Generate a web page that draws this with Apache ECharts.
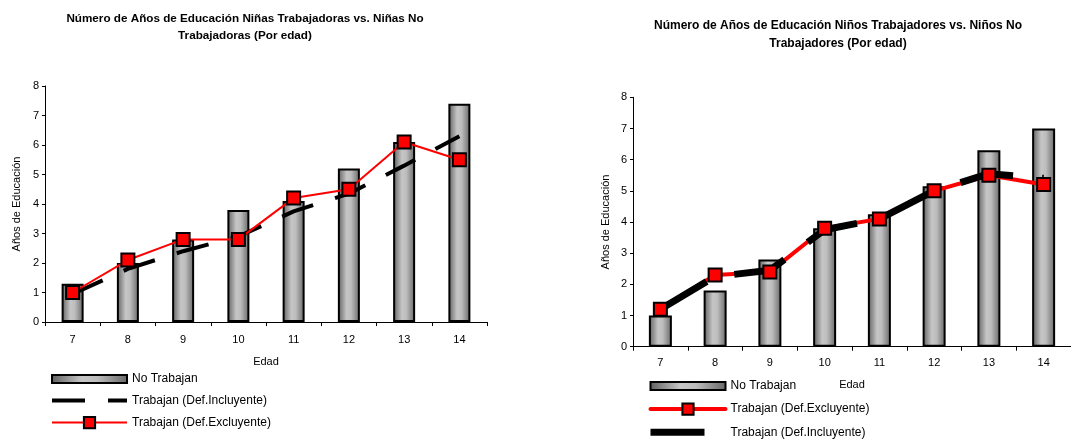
<!DOCTYPE html>
<html>
<head>
<meta charset="utf-8">
<script src="https://cdn.jsdelivr.net/npm/echarts@6/dist/echarts.min.js"></script>
<style>
  html, body { margin: 0; padding: 0; background: #fff; }
  #chart { width: 1071px; height: 439px; }
</style>
</head>
<body>
<div id="chart"></div>
<script>
// Ages (x categories) shared by both panels
const ages = ['7', '8', '9', '10', '11', '12', '13', '14'];

// Girls: years of schooling by age
const ninasNoTrabajan = [1.3, 2.0, 2.8, 3.8, 4.1, 5.2, 6.1, 7.4];
const ninasIncluyente = [0.95, 1.8, 2.4, 2.9, 3.75, 4.35, 5.3, 6.3];
const ninasExcluyente = [1.0, 2.1, 2.8, 2.8, 4.2, 4.5, 6.1, 5.5];

// Boys: years of schooling by age
const ninosNoTrabajan = [1.0, 1.8, 2.8, 3.8, 4.25, 5.15, 6.3, 7.0];
const ninosExcluyente = [1.2, 2.3, 2.4, 3.8, 4.1, 5.0, 5.5, 5.2];
const ninosIncluyente = [1.2, 2.25, 2.45, 3.75, 4.1, 5.0, 5.55, 5.4];

const FONT = '"Liberation Sans", Arial, sans-serif';
const NAME_BAR = 'No Trabajan';
const NAME_INC = 'Trabajan (Def.Incluyente)';
const NAME_EXC = 'Trabajan (Def.Excluyente)';

// Cylinder-like shading for the columns
const barFill = {
  type: 'linear', x: 0, y: 0, x2: 1, y2: 0,
  colorStops: [
    { offset: 0, color: '#5e5e5e' },
    { offset: 0.4, color: '#c6c6c6' },
    { offset: 0.6, color: '#bdbdbd' },
    { offset: 1, color: '#666666' }
  ]
};
const HIDDEN = 'rgba(0,0,0,0)';

function xAxisFor(gridIndex, nameGap, margin) {
  return {
    gridIndex, type: 'category', data: ages,
    axisLine: { lineStyle: { color: '#000', width: 1 } },
    axisTick: { show: true, length: 4, lineStyle: { color: '#000' } },
    axisLabel: { color: '#000', fontSize: 11, fontFamily: FONT, margin },
    name: 'Edad', nameLocation: 'middle', nameGap,
    nameTextStyle: { color: '#000', fontSize: 11, fontFamily: FONT }
  };
}
function yAxisFor(gridIndex, nameGap) {
  return {
    gridIndex, type: 'value', min: 0, max: 8, interval: 1,
    axisLine: { show: true, lineStyle: { color: '#000', width: 1 } },
    axisTick: { show: true, length: 3, lineStyle: { color: '#000' } },
    splitLine: { show: false },
    axisLabel: { color: '#000', fontSize: 11, fontFamily: FONT, margin: 6 },
    name: 'Años de Educación', nameLocation: 'middle', nameGap,
    nameTextStyle: { color: '#000', fontSize: 11, fontFamily: FONT }
  };
}
function barSeries(idx, data, width) {
  return {
    name: NAME_BAR, type: 'bar', xAxisIndex: idx, yAxisIndex: idx,
    data, barWidth: width, z: 2,
    itemStyle: { color: barFill, borderColor: '#000', borderWidth: 2 }
  };
}
const redMarker = { color: '#ff0000', borderColor: '#000', borderWidth: 2 };
const barIcon = 'path://M0,0H75V8H0Z';

function legendFor(left, top, gap, items) {
  return {
    orient: 'vertical', left, top, bottom: -60, padding: 0,
    itemWidth: 75, itemHeight: 14, itemGap: gap, selectedMode: false,
    textStyle: { color: '#000', fontSize: 12, fontFamily: FONT },
    data: items
  };
}

const option = {
  animation: false,
  backgroundColor: '#fff',
  title: [
    {
      text: 'Número de Años de Educación Niñas Trabajadoras vs. Niñas No\nTrabajadoras (Por edad)',
      left: 245, top: 10, padding: 0, textAlign: 'center',
      textStyle: { color: '#000', fontSize: 11.7, fontWeight: 'bold', fontFamily: FONT, lineHeight: 17, align: 'center' }
    },
    {
      text: 'Número de Años de Educación Niños Trabajadores vs. Niños No\nTrabajadores (Por edad)',
      left: 838, top: 17, padding: 0, textAlign: 'center',
      textStyle: { color: '#000', fontSize: 12, fontWeight: 'bold', fontFamily: FONT, lineHeight: 18, align: 'center' }
    }
  ],
  grid: [
    { left: 45, top: 86, width: 442, height: 236 },
    { left: 633, top: 97.3, width: 446, height: 249.4 }
  ],
  xAxis: [xAxisFor(0, 34, 12), xAxisFor(1, 33, 11)],
  yAxis: [yAxisFor(0, 23), yAxisFor(1, 22)],
  legend: [
    legendFor(50, 373, 9.5, [
      { name: NAME_BAR, icon: barIcon, itemStyle: { borderColor: '#000', borderWidth: 2 } },
      { name: NAME_INC, lineStyle: { color: '#000', width: 4, type: [33, 23] }, itemStyle: { color: HIDDEN, borderWidth: 0 } },
      { name: NAME_EXC, lineStyle: { color: '#ff0000', width: 2 }, itemStyle: redMarker }
    ]),
    legendFor(647, 380, 10.5, [
      { name: NAME_BAR, icon: barIcon, itemStyle: { borderColor: '#000', borderWidth: 2 } },
      { name: NAME_EXC, lineStyle: { color: '#ff0000', width: 4, cap: 'round' }, itemStyle: redMarker },
      { name: NAME_INC, lineStyle: { color: '#000', width: 7, type: [54, 29] }, itemStyle: { color: HIDDEN, borderWidth: 0 } }
    ])
  ],
  series: [
    // Girls panel
    barSeries(0, ninasNoTrabajan, 22),
    {
      name: NAME_INC, type: 'line', xAxisIndex: 0, yAxisIndex: 0, data: ninasIncluyente,
      symbol: 'none', z: 3,
      itemStyle: { color: HIDDEN },
      lineStyle: { color: '#000', width: 4, type: [33, 23], cap: 'butt' }
    },
    {
      name: NAME_EXC, type: 'line', xAxisIndex: 0, yAxisIndex: 0, data: ninasExcluyente,
      symbol: 'rect', symbolSize: 13, z: 4,
      itemStyle: redMarker,
      lineStyle: { color: '#ff0000', width: 2 }
    },
    // Boys panel
    barSeries(1, ninosNoTrabajan, 23),
    {
      name: NAME_EXC, type: 'line', xAxisIndex: 1, yAxisIndex: 1, data: ninosExcluyente,
      showSymbol: false, symbol: 'rect', z: 3,
      itemStyle: redMarker,
      lineStyle: { color: '#ff0000', width: 4 }
    },
    {
      name: NAME_INC, type: 'line', xAxisIndex: 1, yAxisIndex: 1, data: ninosIncluyente,
      symbol: 'none', z: 4,
      itemStyle: { color: HIDDEN },
      lineStyle: { color: '#000', width: 7, type: [54, 29], cap: 'butt' }
    },
    {
      // markers drawn above the thick black line
      name: NAME_EXC, type: 'line', xAxisIndex: 1, yAxisIndex: 1, data: ninosExcluyente,
      symbol: 'rect', symbolSize: 13, z: 5,
      itemStyle: redMarker,
      lineStyle: { width: 0, opacity: 0 }
    }
  ]
};

const chart = echarts.init(document.getElementById('chart'), null, { renderer: 'canvas' });
chart.setOption(option);
</script>
</body>
</html>
